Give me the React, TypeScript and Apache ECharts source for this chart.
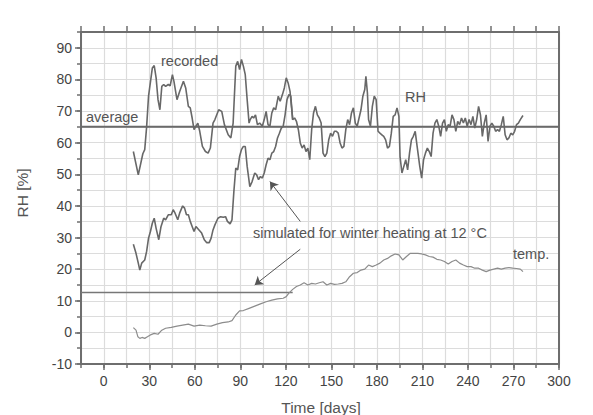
import React, { useEffect, useRef } from "react";
import * as echarts from "echarts";

const recordedDays = [19.5, 22.75, 25.75, 27, 28.25, 29.5, 32, 33.25, 34.5, 35.75, 37, 38.25, 39.5, 40.75, 42.5, 43.75, 45.25, 46.25, 48.25, 50, 52.5, 54, 55.75, 57, 58.25, 59.5, 60.75, 62, 63.25, 65, 67, 68.75, 70.25, 72, 73.25, 75.75, 77.75, 79.5, 82, 83.75, 85.25, 87, 88.25, 89.5, 90.75, 92, 93.25, 94.5, 95.75, 96.5, 97.75, 98.75, 100, 101.25, 102.75, 104.5, 105.75, 107, 108.25, 109.5, 110.75, 112, 113.25, 115, 116.25, 117.75, 119, 120.25, 121.5, 122.75, 124.5, 125.75, 127, 128.25, 129.5, 130.75, 132, 133.25, 134.5, 135.75, 137, 138.25, 139.5, 140.75, 142, 143.25, 144.5, 145.75, 147, 148.25, 149.5, 150.75, 152, 153.25, 154.5, 155.75, 157, 158.25, 159.5, 160.75, 162, 163.25, 164.5, 165.75, 167, 168.25, 169.5, 170.75, 172, 172.75, 173.75, 174.5, 175.75, 177, 178.25, 179.5, 180.75, 182, 183.25, 184.5, 185.75, 187, 188.25, 189.5, 190.75, 192, 193.25, 194.5, 195.25, 196.5, 197.75, 199, 200.25, 201.5, 202.75, 204, 205.25, 206.5, 208.25, 209.5, 210.75, 212, 213.25, 214.5, 215.75, 217, 218.25, 219.5, 220.75, 222, 223.25, 224.5, 225.75, 227, 228.25, 229.5, 230.75, 232, 233.25, 234.5, 235.75, 237, 238.25, 239.5, 240.75, 242, 243.25, 244.5, 245.75, 247, 248.25, 249.5, 250.75, 252, 253.25, 254.5, 255.75, 257, 258.25, 259.5, 260.75, 262, 263.25, 264.5, 265.75, 267, 268.25, 269.5, 270.75, 272, 273.25, 274.5, 276.25];
const recordedRH = [57.2, 49.8, 56.5, 57.8, 65, 74.7, 83.6, 84.4, 80.5, 73.6, 70.4, 77.8, 78.4, 77.8, 78.4, 78, 81.5, 79.4, 73.6, 76.2, 79.4, 77.3, 71.5, 71, 67.8, 64.1, 65.2, 66.2, 63.6, 58.8, 57.2, 56.7, 58.3, 66.2, 67.3, 70.4, 69.9, 65.7, 62.5, 61.5, 66.2, 84.2, 85.7, 83.1, 86.3, 84.2, 81.5, 73.6, 66.2, 67.3, 68.3, 67.8, 68.8, 65.7, 66.2, 65.2, 67.3, 69.9, 65.7, 65.2, 69.4, 71, 70.4, 74.7, 73.1, 75.2, 77.3, 80.5, 78.9, 76.2, 67.3, 67.8, 66.7, 64.1, 59.9, 58.3, 59.3, 57.2, 58.3, 54.6, 64.1, 69.4, 71.5, 68.8, 67.8, 66.2, 56.7, 55.6, 56.7, 60.9, 63, 62, 63.6, 63.6, 63, 59.9, 58.3, 58.8, 64.1, 67.3, 65.7, 69.4, 71, 66.2, 65.2, 67.8, 70.4, 74.7, 76.8, 81, 75.7, 67.3, 65.2, 71.5, 74.7, 73.6, 63.6, 63, 62.5, 62, 60.9, 58.3, 58.8, 63, 68.3, 68.8, 71, 68.3, 55.6, 50.4, 52.5, 54.6, 51.4, 56.7, 60.9, 62, 63.6, 58.8, 52.5, 48.8, 54.6, 56.7, 58.3, 57.2, 55.6, 63, 66.2, 67.3, 65.2, 62, 66.2, 67.3, 63.6, 65.7, 65.2, 68.8, 67.3, 63.6, 66.7, 65.7, 67.8, 66.2, 67.8, 65.2, 67.3, 65.7, 68.3, 64.6, 67.3, 71.5, 68.8, 62, 66.2, 68.8, 60.4, 65.2, 66.2, 65.2, 63.6, 64.1, 63.6, 65.7, 68.3, 62.5, 60.9, 61.5, 63, 62.5, 63.6, 65.7, 66.2, 67.3, 68.6];

const simulatedDays = [19.5, 21.25, 22.75, 23.75, 25, 27, 28.25, 29.5, 30.75, 32, 33.25, 34.5, 36.25, 37.75, 39.5, 40.75, 42.5, 44.5, 45.75, 47, 48.75, 50, 52, 53.25, 54.5, 55.75, 57, 58.25, 59.5, 60.75, 62.75, 64.5, 66.25, 67.75, 69.5, 70.75, 72, 73.25, 75.25, 77, 78.75, 80.25, 81.5, 83.25, 84.5, 85.75, 87, 88.25, 89.5, 90.75, 92, 93.25, 94.5, 96.25, 97.75, 99.5, 100.75, 102, 103.25, 104.5, 105.75, 107, 108.25, 109.5, 110.75, 112, 113.25, 114.5, 115.75, 117, 118.25, 119.5, 120.75, 122, 123.25, 124.5];
const simulatedRH = [27.9, 25, 21.9, 19.7, 21.9, 22.9, 25.6, 29.8, 31.9, 34.5, 36.1, 32.9, 29.3, 33.5, 36.1, 35.6, 37.2, 37.2, 38.8, 37.7, 35.6, 37.7, 40, 39.3, 37.2, 37.2, 35.1, 33.5, 31.9, 33.5, 32.4, 31.4, 29.3, 28.4, 28.4, 29.8, 32.4, 34, 36.1, 36.6, 36.4, 36.6, 35.1, 34.3, 35.6, 44.6, 52, 51.4, 55.6, 57.8, 58.8, 58.8, 52.5, 46.1, 47.7, 50.4, 49.8, 48.3, 49.3, 48.8, 50.4, 53, 55.1, 54.6, 56.7, 57.2, 58.8, 61.5, 63, 64.6, 65.2, 68.8, 73.6, 75.2, 74.7, 67.3];

const tempDays = [19.5, 21.25, 22.5, 23.75, 25.25, 27, 28.75, 30.75, 33.25, 35.75, 38.25, 40.75, 44.5, 48.25, 52, 55.75, 59.5, 63.25, 67, 70.75, 74.5, 78.25, 82, 84.5, 87, 89.5, 92, 95.75, 99.5, 103.25, 107, 110.75, 114.5, 118.25, 120.25, 122, 124.5, 127, 129.5, 132, 134.5, 137, 139.5, 142, 144.5, 147, 149.5, 152, 154.5, 157, 159.5, 162, 164.5, 167, 169.5, 172, 174.5, 177, 179.5, 182, 184.5, 187, 189.5, 192, 194.5, 197, 199.5, 202, 204.5, 207, 209.5, 212, 214.5, 217, 219.5, 222, 224.5, 227, 229.5, 232, 234.5, 237, 239.5, 242, 244.5, 247, 249.5, 252, 254.5, 257, 259.5, 262, 264.5, 267, 269.5, 272, 274.5, 276.25];
const tempValues = [1.5, 0.7, -1.4, -1.9, -1.6, -1.9, -1.4, -0.8, -0.3, -0.6, 0.7, 1.3, 1.6, 2, 2.3, 2.6, 2, 2.3, 2.1, 2, 2.6, 3.1, 3.3, 3.7, 5.5, 6.8, 6.9, 7.6, 8.3, 9, 9.7, 10.2, 10.6, 10.8, 11.3, 12.4, 13.6, 14.5, 15, 15.7, 15, 15.5, 15.3, 15.7, 16, 15, 15.5, 15.2, 15.3, 15.5, 16, 17.6, 18.7, 18.9, 19.7, 20, 21.3, 20.8, 21.3, 21.9, 22.9, 23.4, 24.2, 24.8, 24.5, 22.9, 24, 25, 25, 25, 24.8, 24.5, 24, 23.8, 23.1, 22.9, 22.4, 21.6, 22.4, 22.9, 21.9, 21.3, 20.8, 20.8, 20.3, 20.3, 19.7, 19.2, 19.7, 20, 20.3, 20, 20.3, 20.5, 20.3, 20.2, 20, 19.2];

const averageRH = 65;
const heatingLevel = 12.6;
const heatingEndDay = 124.5;
const xMin = -15;
const xMax = 300;
const yMin = -10;
const yMax = 95;
const xMajorTicks = [0, 30, 60, 90, 120, 150, 180, 210, 240, 270, 300];
const yMajorTicks = [-10, 0, 10, 20, 30, 40, 50, 60, 70, 80, 90];
const arrowUpper = [[129.5, 35.1], [109.5, 47.7]];
const arrowLower = [[129.5, 26.3], [99.5, 15]];

const FONT = "'Liberation Sans', Arial, sans-serif";
const AXIS_COLOR = "#6e6e6e";
const TEXT_COLOR = "#555";
const LINE_COLOR = "#686868";

const zip = (a: number[], b: number[]) => a.map((d, i) => [d, b[i]]);

export default function App() {
  const ref = useRef<HTMLDivElement>(null);
  useEffect(() => {
    if (!ref.current) return;
    const chart = echarts.init(ref.current, undefined, { renderer: "svg" });
    const axisLine = () => ({ show: true, onZero: false, lineStyle: { color: AXIS_COLOR, width: 2 } });
    const hiddenLine = () => ({ show: false, onZero: false });
    const tick = (length: number, values?: number[]) => {
      const t: any = { show: true, inside: false, length, lineStyle: { color: AXIS_COLOR, width: 1.5 } };
      if (values) t.customValues = values;
      return t;
    };
    const clearLabel = () => ({ show: true, color: "rgba(0,0,0,0)", fontSize: 1, formatter: () => " " });
    const gridLine = () => ({ show: true, lineStyle: { color: "#dcdcdc", width: 1.2 } });
    const text = (t: string, x: number, y: number, size = 14.5, extra: any = {}) => ({
      type: "text",
      x,
      y,
      z: 100,
      silent: true,
      style: { text: t, fill: TEXT_COLOR, font: `${size}px ${FONT}`, textVerticalAlign: "middle", ...extra },
    });
    chart.setOption({
      animation: false,
      backgroundColor: "#fff",
      grid: [
        { left: 81, right: 34, top: 32, bottom: 51, containLabel: false },
        { left: 81, right: 34, top: 26, height: 6, containLabel: false },
      ],
      xAxis: [
        {
          type: "value", min: xMin, max: xMax, interval: 15,
          position: "bottom",
          axisLine: hiddenLine(),
          axisTick: tick(4),
          axisLabel: clearLabel(),
          splitLine: gridLine(),
        },
        {
          type: "value", min: xMin, max: xMax, interval: 15,
          position: "bottom",
          axisLine: axisLine(),
          axisTick: tick(6, xMajorTicks),
          axisLabel: { show: true, customValues: xMajorTicks, margin: 10, color: "#444", fontSize: 14, fontFamily: FONT },
          splitLine: { show: false },
        },
        {
          type: "value", min: xMin, max: xMax, interval: 15,
          position: "top",
          axisLine: axisLine(),
          axisTick: { show: false },
          axisLabel: { show: false },
          splitLine: { show: false },
        },
        {
          gridIndex: 1,
          type: "value", min: xMin, max: xMax, interval: 15,
          position: "bottom",
          axisLine: hiddenLine(),
          axisTick: { show: false },
          axisLabel: { show: false },
          splitLine: { show: true, lineStyle: { color: AXIS_COLOR, width: 1.5 } },
        },
      ],
      yAxis: [
        {
          type: "value", min: yMin, max: yMax, interval: 5,
          position: "left",
          axisLine: hiddenLine(),
          axisTick: tick(4),
          axisLabel: clearLabel(),
          splitLine: gridLine(),
        },
        {
          type: "value", min: yMin, max: yMax, interval: 5,
          position: "left",
          axisLine: axisLine(),
          axisTick: tick(6, yMajorTicks),
          axisLabel: { show: true, customValues: yMajorTicks, margin: 9, color: "#444", fontSize: 14, fontFamily: FONT },
          splitLine: { show: false },
        },
        {
          type: "value", min: yMin, max: yMax, interval: 5,
          position: "right",
          axisLine: axisLine(),
          axisTick: { show: false },
          axisLabel: { show: false },
          splitLine: { show: false },
        },
        {
          gridIndex: 1,
          type: "value", min: 0, max: 1,
          show: false,
        },
      ],
      series: [
        {
          name: "average",
          type: "line",
          data: [[xMin, averageRH], [xMax, averageRH]],
          showSymbol: false,
          lineStyle: { color: "#6a6a6a", width: 2 },
          silent: true,
        },
        {
          name: "heating",
          type: "line",
          data: [[xMin, heatingLevel], [heatingEndDay, heatingLevel]],
          showSymbol: false,
          lineStyle: { color: "#777", width: 1.6 },
          silent: true,
        },
        {
          name: "temp.",
          type: "line",
          data: zip(tempDays, tempValues),
          showSymbol: false,
          lineStyle: { color: "#8c8c8c", width: 1.2 },
          silent: true,
        },
        {
          name: "simulated",
          type: "line",
          data: zip(simulatedDays, simulatedRH),
          showSymbol: false,
          lineStyle: { color: LINE_COLOR, width: 1.6 },
          silent: true,
          markLine: {
            silent: true,
            symbol: ["none", "arrow"],
            symbolSize: 8,
            label: { show: false },
            lineStyle: { color: "#555", width: 1, type: "solid" },
            data: [
              [{ coord: arrowUpper[0] }, { coord: arrowUpper[1] }],
              [{ coord: arrowLower[0] }, { coord: arrowLower[1] }],
            ],
          },
        },
        {
          name: "recorded",
          type: "line",
          data: zip(recordedDays, recordedRH),
          showSymbol: false,
          lineStyle: { color: LINE_COLOR, width: 1.6 },
          silent: true,
        },
      ],
      graphic: [
        text("recorded", 161, 61),
        text("average", 86, 117),
        text("RH", 405, 97),
        text("simulated for winter heating at 12 °C", 253, 233),
        text("temp.", 513, 254),
        text("Time [days]", 321, 407, 15.5, { textAlign: "center" }),
        {
          type: "text",
          x: 22,
          y: 193,
          z: 100,
          rotation: Math.PI / 2,
          silent: true,
          style: { text: "RH [%]", fill: TEXT_COLOR, font: `15.5px ${FONT}`, textAlign: "center", textVerticalAlign: "middle" },
        },
      ],
    });
    return () => chart.dispose();
  }, []);
  return <div ref={ref} style={{ position: "fixed", left: 0, top: 0, width: 593, height: 415 }} />;
}
